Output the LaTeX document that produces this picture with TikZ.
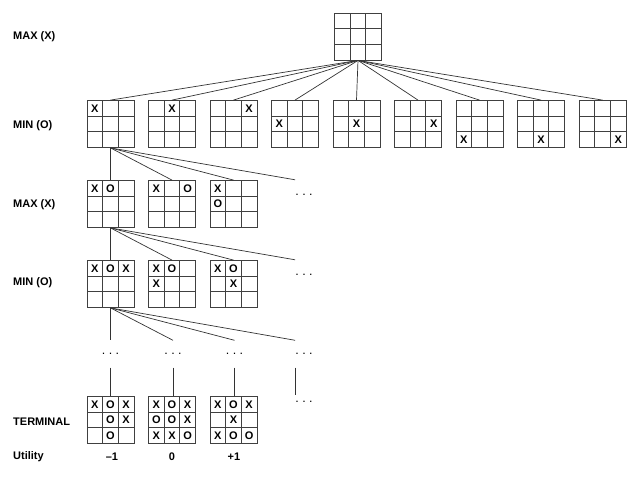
\documentclass[tikz,border=0pt]{standalone}
\usepackage{fontspec}
\setmainfont{Liberation Sans}
\tikzset{
 board/.style={draw=black!75, line width=0.8pt, minimum size=47pt, inner sep=0pt},
 gridline/.style={draw=black!75, line width=0.8pt},
 mk/.style={font=\fontsize{11}{11}\selectfont\bfseries, inner sep=0pt},
 lvl/.style={font=\fontsize{11}{11}\selectfont\bfseries, anchor=west, inner sep=0pt},
 util/.style={font=\fontsize{11}{11}\selectfont\bfseries, inner sep=0pt},
 edge/.style={draw=black!80, line width=0.7pt},
 dotsnode/.style={font=\fontsize{12.5}{12.5}\selectfont, inner sep=0pt},
}
\newcommand\tttboard[3]{%
 \node[board] (#1) at (#2,#3) {};
 \foreach \k in {1,2}{%
  \draw[gridline] (#2-23.5+\k*15.6667,#3-23.5) -- (#2-23.5+\k*15.6667,#3+23.5);
  \draw[gridline] (#2-23.5,#3-23.5+\k*15.6667) -- (#2+23.5,#3-23.5+\k*15.6667);
 }}
\newcommand\tttmarks[4]{%
 \foreach \c/\r/\m in {#4}{%
  \node[mk] (#1m\c\r) at (#2-31.3333+\c*15.6667,#3-31.3333+\r*15.6667) {\m};
 }}
\begin{document}
\begin{tikzpicture}[x=1pt,y=-1pt]
\useasboundingbox (0,0) rectangle (638,479);
% level labels
\node[lvl] (l0) at (13,37) {MAX (X)};
\node[lvl] (l1) at (13,126) {MIN (O)};
\node[lvl] (l2) at (13,205) {MAX (X)};
\node[lvl] (l3) at (13,283) {MIN (O)};
\node[lvl] (l4) at (13,422) {TERMINAL};
\node[lvl] (l5) at (13,457) {Utility};
% root
\tttboard{root}{358}{36.5}
% level 1
\tttboard{a1}{110.5}{124}\tttmarks{a1}{110.5}{124}{1/1/X}
\tttboard{a2}{172}{124}\tttmarks{a2}{172}{124}{2/1/X}
\tttboard{a3}{233.5}{124}\tttmarks{a3}{233.5}{124}{3/1/X}
\tttboard{a4}{295}{124}\tttmarks{a4}{295}{124}{1/2/X}
\tttboard{a5}{356.5}{124}\tttmarks{a5}{356.5}{124}{2/2/X}
\tttboard{a6}{418}{124}\tttmarks{a6}{418}{124}{3/2/X}
\tttboard{a7}{479.5}{124}\tttmarks{a7}{479.5}{124}{1/3/X}
\tttboard{a8}{541}{124}\tttmarks{a8}{541}{124}{2/3/X}
\tttboard{a9}{602.5}{124}\tttmarks{a9}{602.5}{124}{3/3/X}
\foreach \i in {1,...,9} \draw[edge] (root.south) -- (a\i.north);
% level 2
\tttboard{b1}{110.5}{204}\tttmarks{b1}{110.5}{204}{1/1/X,2/1/O}
\tttboard{b2}{172}{204}\tttmarks{b2}{172}{204}{1/1/X,3/1/O}
\tttboard{b3}{233.5}{204}\tttmarks{b3}{233.5}{204}{1/1/X,1/2/O}
\node[dotsnode, minimum height=30pt] (bd) at (304,195) {.\ .\ .};
\foreach \n in {b1,b2,b3} \draw[edge] (a1.south) -- (\n.north);
\draw[edge] (a1.south) -- (bd.north west);
% level 3
\tttboard{c1}{110.5}{284}\tttmarks{c1}{110.5}{284}{1/1/X,2/1/O,3/1/X}
\tttboard{c2}{172}{284}\tttmarks{c2}{172}{284}{1/1/X,2/1/O,1/2/X}
\tttboard{c3}{233.5}{284}\tttmarks{c3}{233.5}{284}{1/1/X,2/1/O,2/2/X}
\node[dotsnode, minimum height=30pt] (cd) at (304,275) {.\ .\ .};
\foreach \n in {c1,c2,c3} \draw[edge] (b1.south) -- (\n.north);
\draw[edge] (b1.south) -- (cd.north west);
% level 4 dots
\node[dotsnode, minimum height=27pt] (d1) at (110.5,354) {.\ .\ .};
\node[dotsnode, minimum height=27pt] (d2) at (173,354) {.\ .\ .};
\node[dotsnode, minimum height=27pt] (d3) at (234.5,354) {.\ .\ .};
\node[dotsnode, minimum height=27pt] (d4) at (304,354) {.\ .\ .};
\foreach \n in {d1,d2,d3} \draw[edge] (c1.south) -- (\n.north);
\draw[edge] (c1.south) -- (d4.north west);
% terminal
\tttboard{t1}{110.5}{420}\tttmarks{t1}{110.5}{420}{1/1/X,2/1/O,3/1/X,2/2/O,3/2/X,2/3/O}
\tttboard{t2}{172}{420}\tttmarks{t2}{172}{420}{1/1/X,2/1/O,3/1/X,1/2/O,2/2/O,3/2/X,1/3/X,2/3/X,3/3/O}
\tttboard{t3}{233.5}{420}\tttmarks{t3}{233.5}{420}{1/1/X,2/1/O,3/1/X,2/2/X,1/3/X,2/3/O,3/3/O}
\node[dotsnode, minimum height=14pt] (e4) at (304,402) {.\ .\ .};
\draw[edge] (d1.south) -- (t1.north);
\draw[edge] (d2.south) -- (d2.south |- t2.north);
\draw[edge] (d3.south) -- (d3.south |- t3.north);
\draw[edge] (d4.south west) -- (e4.north west);
% utility
\node[util] (u1) at (112,457) {–1};
\node[util] (u2) at (172,457) {0};
\node[util] (u3) at (234,457) {+1};
\end{tikzpicture}
\end{document}
